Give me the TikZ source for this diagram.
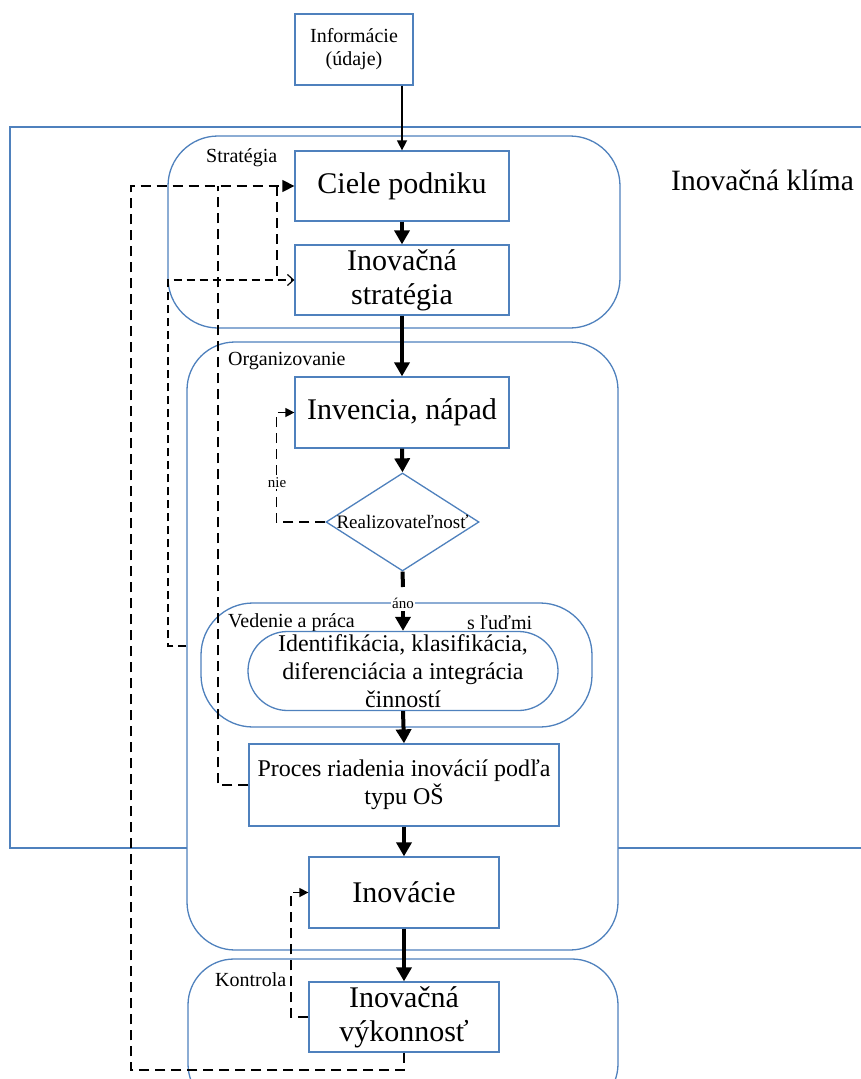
\documentclass[tikz,border=0pt]{standalone}
\usepackage{fontspec}
\setmainfont{Liberation Serif}
\usetikzlibrary{arrows.meta,shapes.geometric}
\definecolor{frame}{RGB}{79,129,189}
\begin{document}
\begin{tikzpicture}[x=1pt,y=-1pt,
  region/.style={draw=frame,line width=1.3pt,fill=white,rounded corners=#1,inner sep=0pt},
  region/.default=46pt,
  box/.style={draw=frame,line width=1.3pt,fill=white,inner sep=0pt,align=center},
  big/.style={font=\fontsize{30}{34}\selectfont},
  mid/.style={font=\fontsize{24}{28}\selectfont},
  small/.style={font=\fontsize{20}{23}\selectfont},
  tiny/.style={font=\fontsize{15}{17}\selectfont},
  flow/.style={line width=4pt,-{Triangle[length=14pt,width=15pt]}},
  fb/.style={line width=1.5pt,dash pattern=on 10pt off 6pt},
  lbl/.style={inner sep=0pt,anchor=west},
]
\useasboundingbox (0,0) rectangle (861,1079);
\clip (0,0) rectangle (861,1079);

% innovation climate frame (open to the right)
\node[draw=frame,line width=1.3pt,minimum width=890pt,minimum height=721pt,inner sep=0pt] (climate) at (455,487.5) {};
\node[lbl,font=\fontsize{29.5}{33}\selectfont] (climateLbl) at (671,180) {Inovačná klíma};

% phase regions
\node[region=50pt,minimum width=452pt,minimum height=192pt] (stratR) at (394,232) {};
\node[region=48pt,minimum width=431pt,minimum height=608pt] (orgR) at (402.5,646) {};
\node[region=46pt,minimum width=430pt,minimum height=151pt] (kontR) at (403,1034.5) {};
\node[region=52pt,minimum width=391pt,minimum height=124pt] (vedR) at (396.5,665) {};

\node[lbl,small] (stratLbl) at (206,158) {Stratégia};
\node[lbl,small] (orgLbl) at (228,361) {Organizovanie};
\node[lbl,small] (vedLbl) at (228,623) {Vedenie a práca};
\node[lbl,small] (ludiaLbl) at (467,623) {s ľuďmi};
\node[lbl,small] (kontLbl) at (215,980) {Kontrola};

% process steps
\node[box,small,minimum width=118pt,minimum height=71pt] (info) at (354,49.5) {Informácie\\(údaje)};
\node[box,big,minimum width=214pt,minimum height=70pt] (ciele) at (402,186) {Ciele podniku};
\node[box,big,minimum width=214pt,minimum height=70pt] (strat) at (402,280) {Inovačná\\stratégia};
\node[box,big,minimum width=214pt,minimum height=71pt] (inv) at (402,412.5) {Invencia, nápad};
\node[draw=frame,line width=1.3pt,fill=white,diamond,inner sep=0pt,minimum width=153pt,minimum height=98pt] (dia) at (402.5,522) {};
\node[inner sep=0pt,font=\fontsize{19}{22}\selectfont] (diaLbl) at (402.5,522) {Realizovateľnosť};
\node[box,mid,rounded corners=39.5pt,minimum width=310pt,minimum height=79pt] (iden) at (403,671) {Identifikácia, klasifikácia,\\diferenciácia a integrácia\\činností};
\node[box,mid,minimum width=310pt,minimum height=82pt] (proc) at (404,785) {Proces riadenia inovácií podľa\\typu OŠ};
\node[box,big,minimum width=190pt,minimum height=71pt] (inova) at (404,892.5) {Inovácie};
\node[box,big,minimum width=190pt,minimum height=70pt] (vyk) at (404,1017) {Inovačná\\výkonnosť};

% main flow
\draw[line width=1.5pt,-{Triangle[length=10pt,width=10pt]}] (info.south -| ciele.north) -- (ciele.north);
\draw[flow] (ciele.south) -- (strat.north);
\draw[flow] (strat.south) -- (inv.north);
\draw[flow] (inv.south) -- (dia.north);
\coordinate (anoTop) at (403,587);
\coordinate (anoBot) at (403,611);
\draw[line width=4pt] (dia.south) -- (anoTop);
\draw[flow] (anoBot) -- (iden.north);
\node[tiny,fill=white,inner sep=1pt] (ano) at (403,603) {áno};
\draw[flow] (iden.south) -- (proc.north);
\draw[flow] (proc.south) -- (inova.north);
\draw[flow,line width=4.5pt] (inova.south) -- (vyk.north);

% feedback loops
\draw[fb,-{Triangle[length=9pt,width=9pt]}] (dia.west) -- ++(-49,0) |- (inv.west);
\node[tiny,fill=white,inner sep=1pt] (nie) at (277,483) {nie};

\coordinate (loopA) at (131,1070);
\draw[fb,-{Triangle[length=12pt,width=12pt]}] (vyk.south) |- (loopA) |- (ciele.west);
\coordinate (loopB) at (218,186);
\draw[fb] (proc.west) -| (loopB);
\coordinate (loopC) at (277,186);
\coordinate (loopD) at (277,280);
\draw[fb] (loopC) -- (loopD);
\coordinate (loopE) at (168,646);
\draw[line width=1.2pt,dash pattern=on 8pt off 5pt,-{Straight Barb[length=6pt,width=11pt]}] (orgR.west) -- (loopE) |- (strat.west);
\coordinate (loopF) at (291,1017);
\draw[fb,-{Triangle[length=9pt,width=9pt]}] (vyk.west) -- (loopF) |- (inova.west);
\end{tikzpicture}
\end{document}
